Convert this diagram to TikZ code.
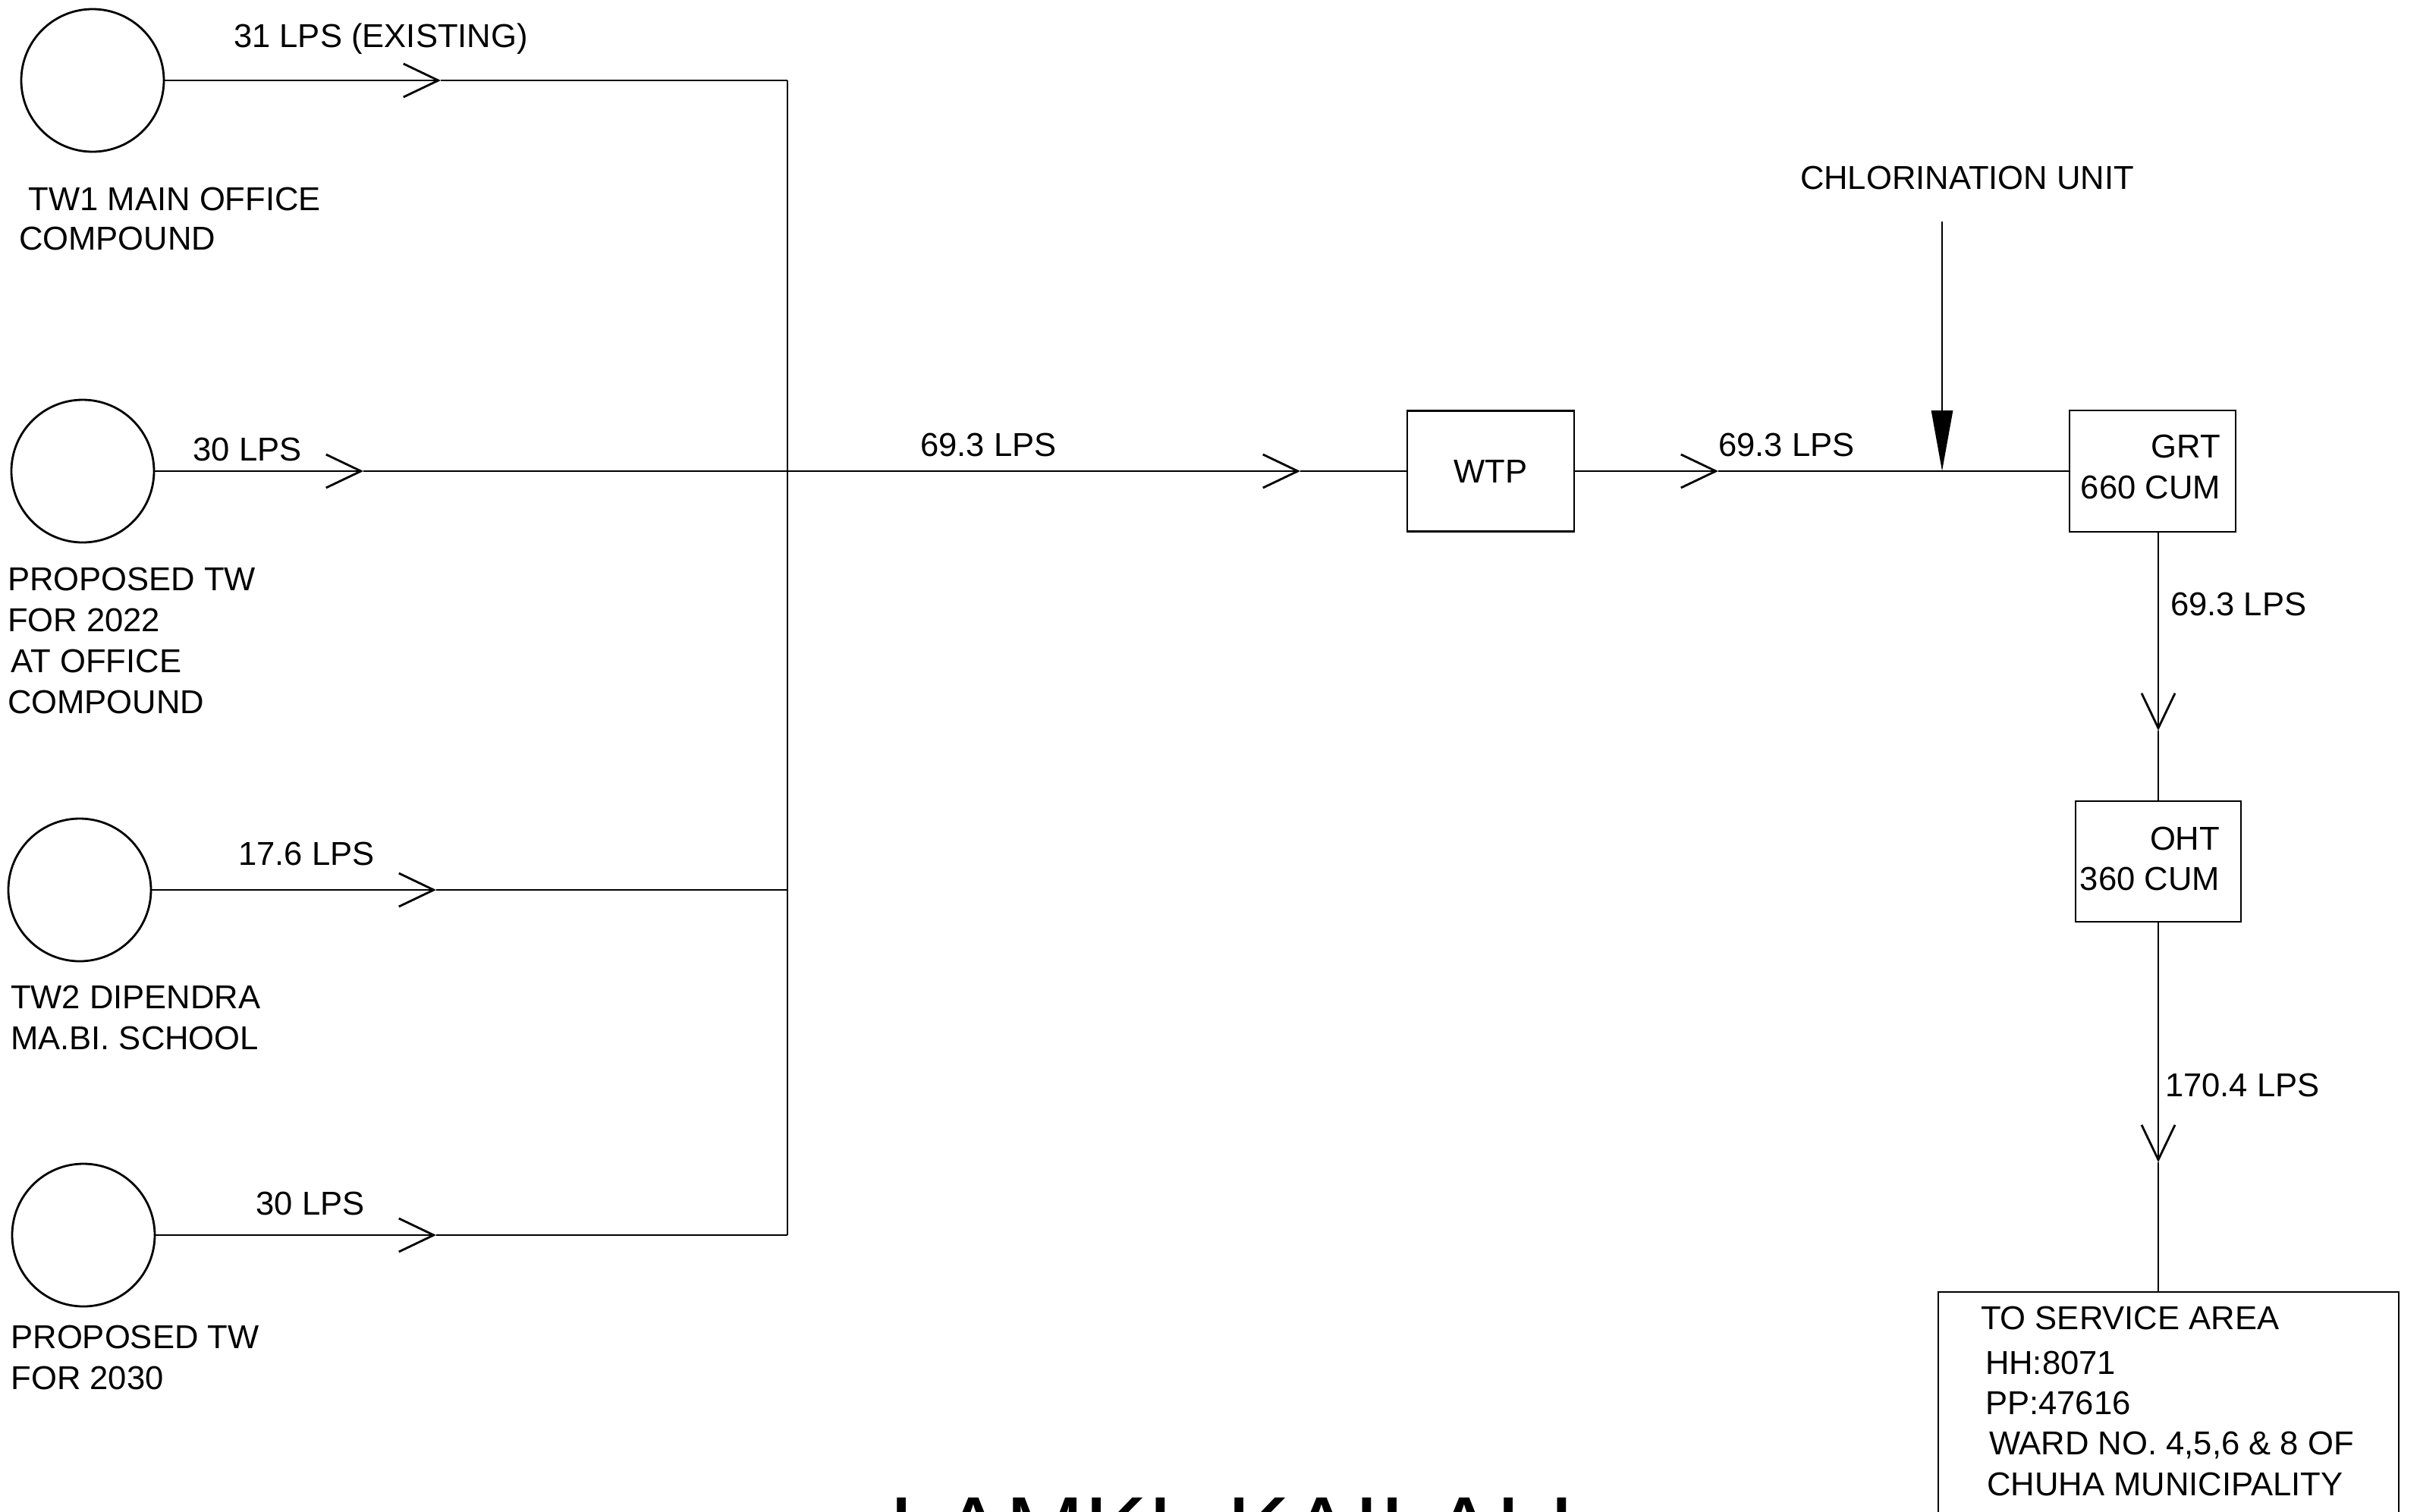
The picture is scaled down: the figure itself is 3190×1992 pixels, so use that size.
\documentclass[tikz,border=0pt]{standalone}
\usepackage{fontspec}
\setmainfont{Liberation Sans}
\usetikzlibrary{arrows.meta}
\begin{document}
\begin{tikzpicture}[x=0.25pt,y=-0.25pt,
  every node/.style={inner sep=0pt, outer sep=0pt},
  ln/.style={line width=0.7pt},
  well/.style={circle, draw, line width=0.7pt, minimum size=47pt},
  tank/.style={draw, line width=0.7pt, minimum width=54.75pt, minimum height=40pt, font=\fontsize{10.9pt}{13.5pt}\selectfont},
  txt/.style={font=\fontsize{10.9pt}{13.5pt}\selectfont, align=left},
  flow/.style={ln, -{Straight Barb[length=11.5pt,width=11pt]}},
  chl/.style={ln, -{Triangle[length=20pt,width=7pt]}}
]
\useasboundingbox (0,0) rectangle (3190,1992);
\clip (0,0) rectangle (3190,1992);

% wells
\node[well] (tw1) at (122,106) {};
\node[well] (tw2) at (109,621) {};
\node[well] (tw3) at (105,1173) {};
\node[well] (tw4) at (110,1628) {};

\coordinate (j1) at (1038,106);
\coordinate (j2) at (1038,621);
\coordinate (j3) at (1038,1173);
\coordinate (j4) at (1038,1628);
\coordinate (t1) at (581,106);
\coordinate (t2) at (479,621);
\coordinate (t3) at (575,1173);
\coordinate (t4) at (575,1628);

\draw[flow] (tw1) -- (t1); \draw[ln] (t1) -- (j1);
\draw[flow] (tw2) -- (t2); \draw[ln] (t2) -- (j2);
\draw[flow] (tw3) -- (t3); \draw[ln] (t3) -- (j3);
\draw[flow] (tw4) -- (t4); \draw[ln] (t4) -- (j4);
\draw[ln] (j1) -- (j4);

\node[txt, anchor=base] (l1) at (502,62.5) {31 LPS (EXISTING)};
\node[txt, anchor=base] (l2) at (326,607) {30 LPS};
\node[txt, anchor=base] (l3) at (404,1140.5) {17.6 LPS};
\node[txt, anchor=base] (l4) at (409,1601) {30 LPS};

% multi-line nodes: base anchor = last line's baseline
\node[txt, anchor=base west, font=\fontsize{10.9pt}{13pt}\selectfont] (n1) at (25,329.5) {\hspace*{3.2pt}TW1 MAIN OFFICE\\COMPOUND};
\node[txt, anchor=base west] (n2) at (10,940.5) {PROPOSED TW\\FOR 2022\\\hspace*{1.2pt}AT OFFICE\\COMPOUND};
\node[txt, anchor=base west] (n3) at (14,1383.5) {TW2 DIPENDRA\\MA.BI. SCHOOL};
\node[txt, anchor=base west] (n4) at (14.5,1831.5) {PROPOSED TW\\FOR 2030};

% treatment
\node[tank, minimum width=55pt, minimum height=39.75pt] (wtp) at (1965,621) {WTP};
\coordinate (tm) at (1714,621);
\draw[flow] (j2) -- (tm); \draw[ln] (tm) -- (wtp);
\node[txt, anchor=base] (lm) at (1303,601.5) {69.3 LPS};

\node[tank] (grt) at (2837.5,621) {};
\node[txt, anchor=base east] (grt1) at ([xshift=-5pt,yshift=-15.6pt]grt.north east) {GRT};
\node[txt, anchor=base east] (grt2) at ([xshift=-5pt,yshift=-29.1pt]grt.north east) {660 CUM};
\coordinate (tw) at (2265,621);
\coordinate (cp) at (2560,621);
\coordinate (ct) at (2560,292);
\draw[flow] (wtp) -- (tw); \draw[ln] (tw) -- (grt);
\node[txt, anchor=base] (lw) at (2355,601.5) {69.3 LPS};
\draw[chl] (ct) -- (cp);
\node[txt, anchor=base] (cltxt) at (2593,249.5) {CHLORINATION UNIT};

\node[tank, minimum width=54.5pt, minimum height=39.75pt] (oht) at (2845,1135.5) {};
\node[txt, anchor=base east] (oht1) at ([xshift=-7pt,yshift=-16.1pt]oht.north east) {OHT};
\node[txt, anchor=base east] (oht2) at ([xshift=-7pt,yshift=-29.4pt]oht.north east) {360 CUM};
\coordinate (tv1) at (2845,963);
\draw[flow] (grt.south -| oht.north) -- (tv1); \draw[ln] (tv1) -- (oht.north);
\node[txt, anchor=base west] (lv1) at (2861,811.5) {69.3 LPS};

\node[draw, ln, minimum width=151.75pt, minimum height=120pt, anchor=north west] (svc) at (2555,1703) {};
\coordinate (tv2) at (2845,1532);
\draw[flow] (oht.south) -- (tv2); \draw[ln] (tv2) -- (svc.north -| oht.south);
\node[txt, anchor=base west] (lv2) at (2854,1445.5) {170.4 LPS};

\node[txt, anchor=base west] (s1) at (2611,1752) {TO SERVICE AREA};
\node[txt, anchor=base west, font=\fontsize{10.9pt}{13.3pt}\selectfont] (s2) at (2617,1971) {HH:8071\\PP:47616\\\hspace*{1.3pt}WARD NO. 4,5,6 \& 8 OF\\\hspace*{0.6pt}CHUHA MUNICIPALITY};

\node[anchor=base west, font=\fontsize{31.3pt}{36pt}\selectfont] (title) at (1172,2060) {LAMKI, KAILALI};
\end{tikzpicture}
\end{document}
